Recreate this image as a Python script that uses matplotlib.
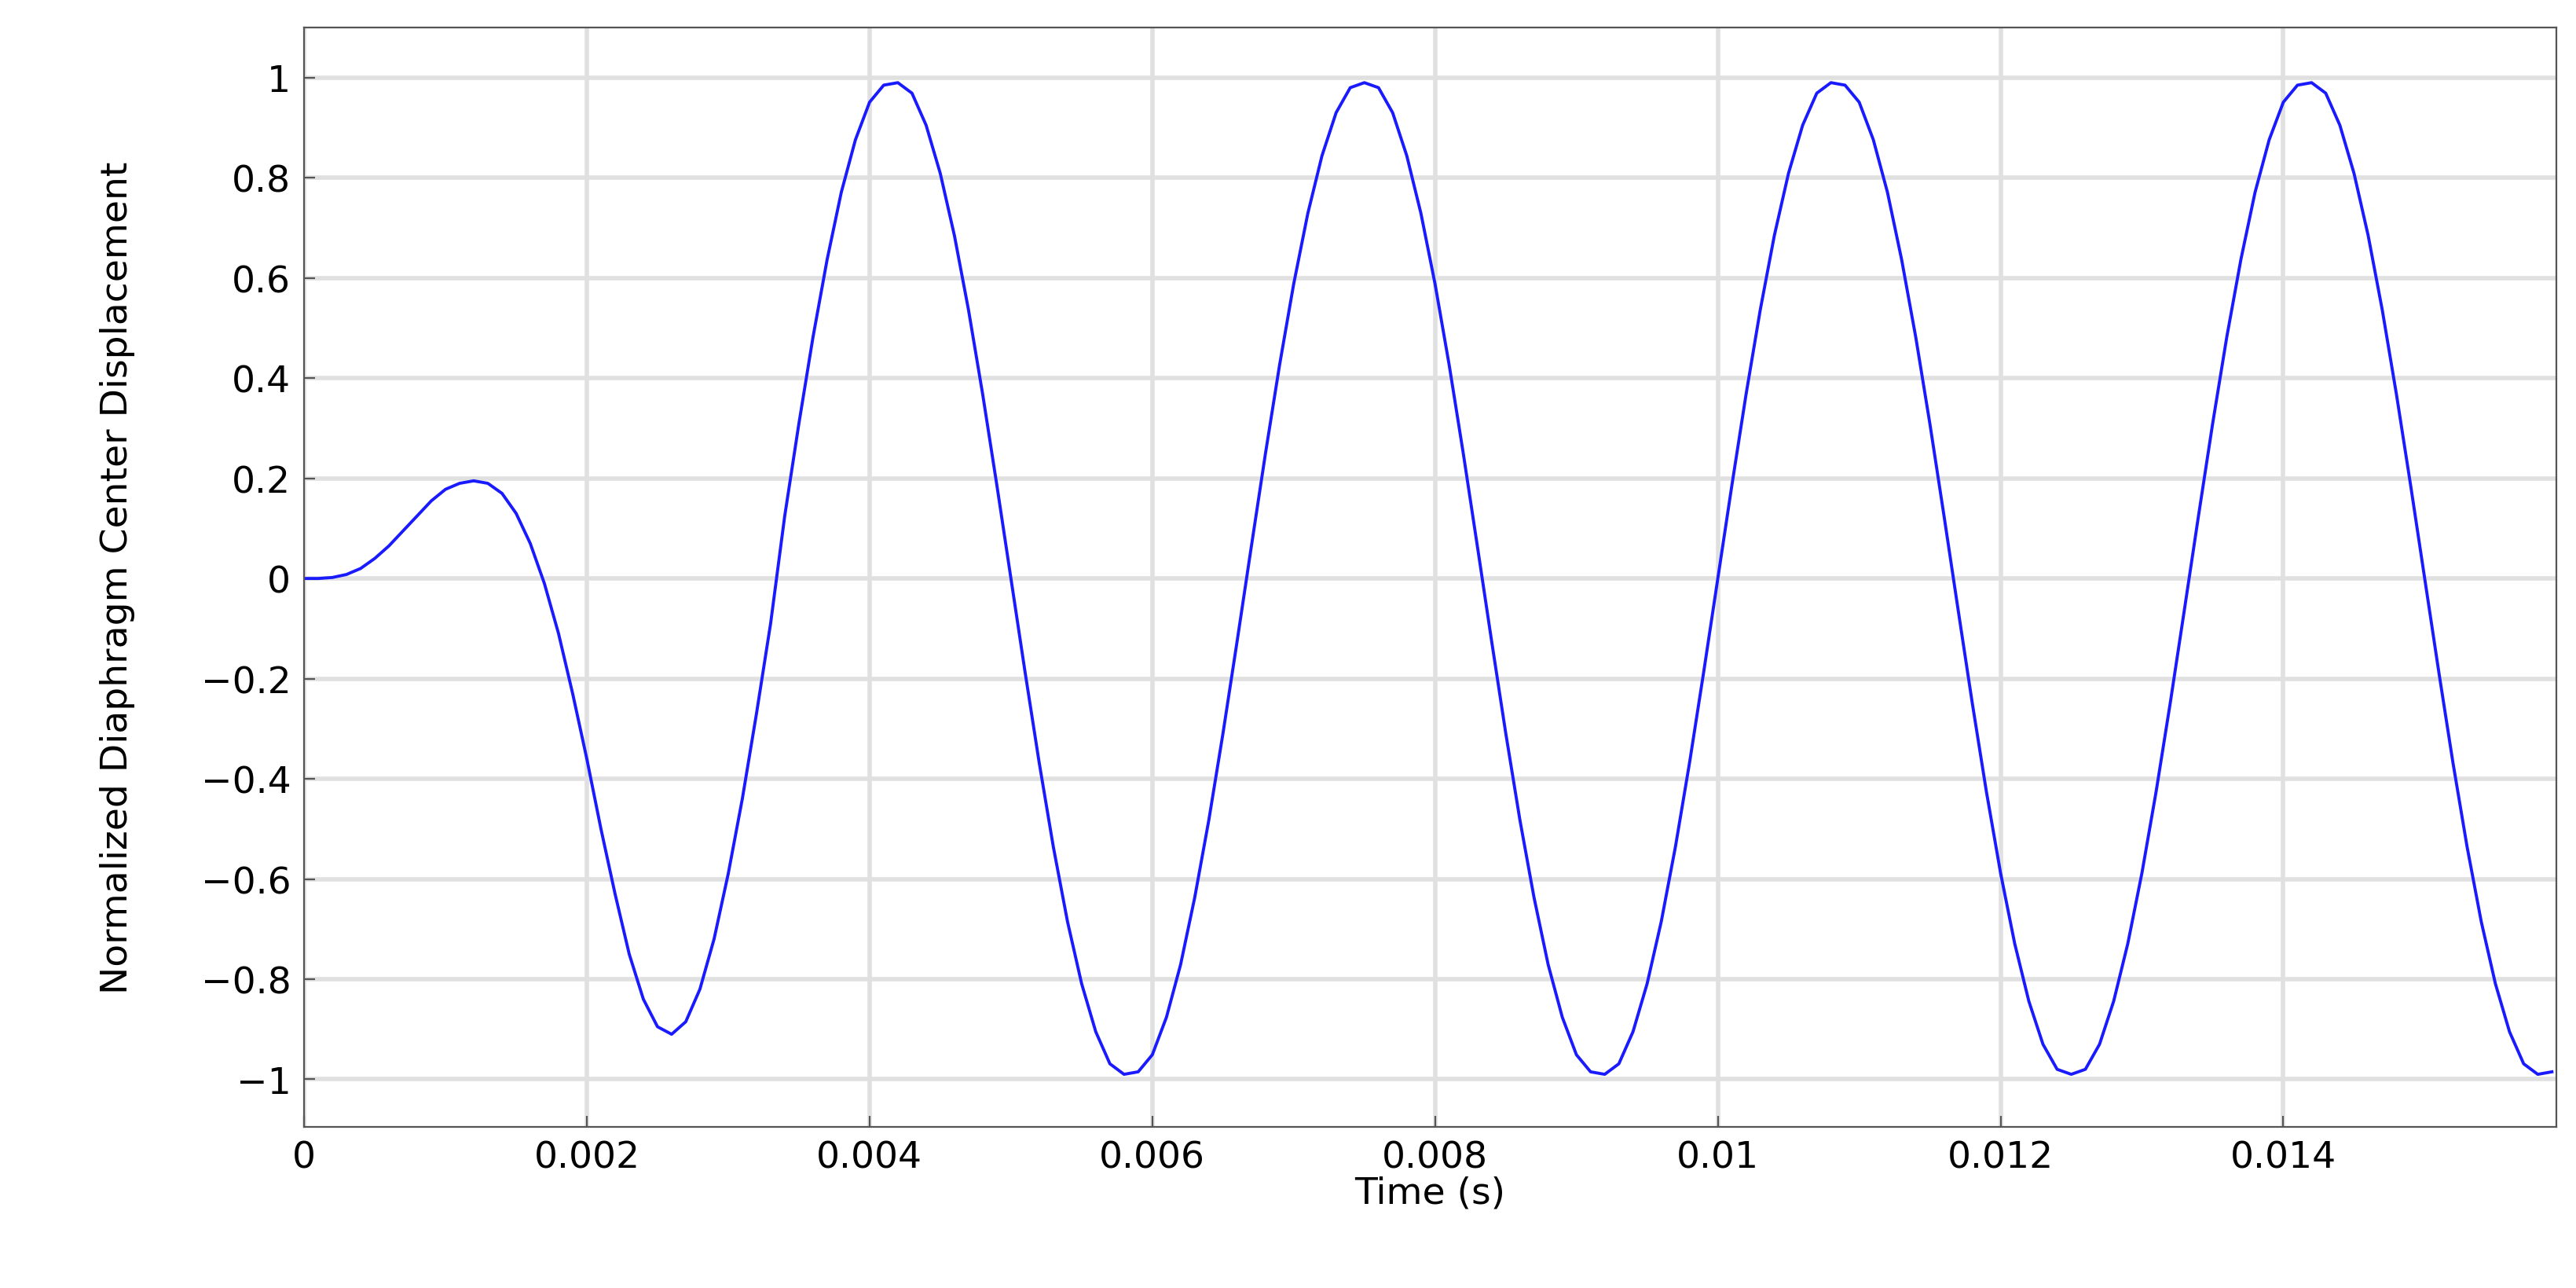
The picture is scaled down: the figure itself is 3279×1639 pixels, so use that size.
import matplotlib
matplotlib.use('Agg')
from matplotlib import pyplot as plt
import numpy as np

# time samples (ms) every 0.1 ms, converted to seconds below
time_ms = np.round(np.arange(0, 15.95, 0.1), 1)

# normalized diaphragm center displacement
disp = [
    0.0, 0.0, 0.002, 0.008, 0.02, 0.04, 0.065, 0.095, 0.125, 0.155,
    0.178, 0.19, 0.195, 0.19, 0.17, 0.13, 0.07, -0.01, -0.11, -0.23,
    -0.36, -0.5, -0.63, -0.75, -0.84, -0.895, -0.91, -0.885, -0.82, -0.72,
    -0.59, -0.44, -0.27, -0.09, 0.125, 0.309, 0.482, 0.637, 0.771, 0.876,
    0.951, 0.985, 0.99, 0.969, 0.905, 0.809, 0.685, 0.536, 0.368, 0.187,
    0.0, -0.187, -0.368, -0.536, -0.685, -0.809, -0.905, -0.969, -0.99, -0.985,
    -0.951, -0.876, -0.771, -0.637, -0.482, -0.309, -0.125, 0.063, 0.249, 0.426,
    0.588, 0.729, 0.844, 0.930, 0.980, 0.99, 0.980, 0.930, 0.844, 0.729,
    0.588, 0.426, 0.249, 0.063, -0.125, -0.309, -0.482, -0.637, -0.771, -0.876,
    -0.951, -0.985, -0.99, -0.969, -0.905, -0.809, -0.685, -0.536, -0.368, -0.187,
    0.0, 0.187, 0.368, 0.536, 0.685, 0.809, 0.905, 0.969, 0.99, 0.985,
    0.951, 0.876, 0.771, 0.637, 0.482, 0.309, 0.125, -0.063, -0.249, -0.426,
    -0.588, -0.729, -0.844, -0.930, -0.980, -0.99, -0.980, -0.930, -0.844, -0.729,
    -0.588, -0.426, -0.249, -0.063, 0.125, 0.309, 0.482, 0.637, 0.771, 0.876,
    0.951, 0.985, 0.99, 0.969, 0.905, 0.809, 0.685, 0.536, 0.368, 0.187,
    0.0, -0.187, -0.368, -0.536, -0.685, -0.809, -0.905, -0.969, -0.99, -0.985,
]
n = min(len(time_ms), len(disp))
t = time_ms[:n] / 1000.0
y = np.array(disp[:n])

xticks = [0, 0.002, 0.004, 0.006, 0.008, 0.01, 0.012, 0.014]
xlabels = ['0', '0.002', '0.004', '0.006', '0.008', '0.01', '0.012', '0.014']
yticks = [-1, -0.8, -0.6, -0.4, -0.2, 0, 0.2, 0.4, 0.6, 0.8, 1]
ylabels = ['\u22121', '\u22120.8', '\u22120.6', '\u22120.4', '\u22120.2', '0',
           '0.2', '0.4', '0.6', '0.8', '1']

fig = plt.figure(figsize=(16.4, 8.2), dpi=200)
ax = fig.add_axes([0.118, 0.125, 0.874, 0.853])
ax.plot(t, y, color='#1a1aff', linewidth=1.4, solid_joinstyle='round')
ax.set_xlim(0, 0.01593)
ax.set_ylim(-1.095, 1.10)
ax.set_xticks(xticks)
ax.set_xticklabels(xlabels)
ax.set_yticks(yticks)
ax.set_yticklabels(ylabels)
ax.tick_params(labelsize=17, direction='in', length=5, color='#555555', pad=6)
ax.grid(color='#e0e0e0', linewidth=2)
ax.set_axisbelow(True)
for s in ax.spines.values():
    s.set_color('#555555')
ax.set_xlabel('Time (s)', fontsize=17, labelpad=0)
ax.set_ylabel('Normalized Diaphragm Center Displacement', fontsize=17, labelpad=30)

fig.savefig('out.png', dpi=200)
